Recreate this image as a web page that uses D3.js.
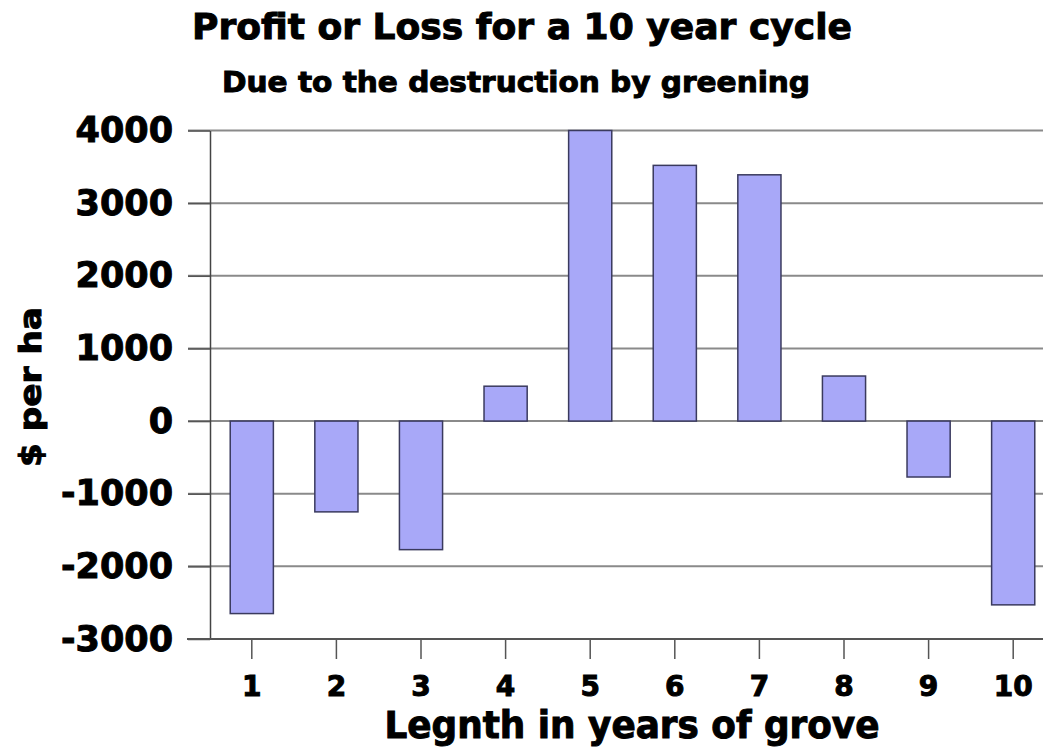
<!DOCTYPE html>
<html>
<head>
<meta charset="utf-8">
<script src="https://cdn.jsdelivr.net/npm/d3@7"></script>
<style>
  html, body { margin: 0; padding: 0; background: #ffffff; }
  svg { display: block; }
  text { font-family: "DejaVu Sans", sans-serif; font-weight: bold; fill: #000; }
  .heavy { stroke: #000; stroke-width: 1; paint-order: stroke; }
</style>
</head>
<body>
<svg id="chart" width="1043" height="750"></svg>
<script>
// Grove age (years) and the resulting profit or loss in $ per ha
const years = [1, 2, 3, 4, 5, 6, 7, 8, 9, 10];
const profit = [-2650, -1250, -1770, 480, 4000, 3520, 3390, 620, -770, -2530];
const yTicks = [-3000, -2000, -1000, 0, 1000, 2000, 3000, 4000];

const titleText = "Profit or Loss for a 10 year cycle";
const subtitleText = "Due to the destruction by greening";
const xTitleText = "Legnth in years of grove";
const yTitleText = "$ per ha";

const svg = d3.select("#chart");

const x = d3.scaleBand()
  .domain(years)
  .range([209.5, 1055.5])
  .paddingInner(0.49)
  .paddingOuter(0.245);

const y = d3.scaleLinear()
  .domain([-3000, 4000])
  .range([639, 130.5]);

// horizontal gridlines (span the tick marks on the left)
svg.append("g")
  .selectAll("line")
  .data(yTicks.filter(d => d !== -3000))
  .join("line")
  .attr("x1", 188)
  .attr("x2", 1043)
  .attr("y1", d => y(d))
  .attr("y2", d => y(d))
  .attr("stroke", "#8a8a8a")
  .attr("stroke-width", 2);

// bars
svg.append("g")
  .selectAll("rect")
  .data(years.map((yr, i) => ({ yr, v: profit[i] })))
  .join("rect")
  .attr("x", d => x(d.yr))
  .attr("width", x.bandwidth())
  .attr("y", d => y(Math.max(0, d.v)))
  .attr("height", d => Math.abs(y(d.v) - y(0)))
  .attr("fill", "#a8a8f8")
  .attr("stroke", "#3a3a5e")
  .attr("stroke-width", 1.5);

// y axis (plain hyphen for negative labels)
const yAxis = svg.append("g")
  .attr("transform", "translate(210,0)")
  .call(d3.axisLeft(y)
    .tickValues(yTicks)
    .tickSize(22)
    .tickSizeOuter(0)
    .tickPadding(15)
    .tickFormat(d => String(d)));
yAxis.select(".domain").attr("stroke", "#444").attr("stroke-width", 1.5);
yAxis.selectAll(".tick line").attr("stroke", "#555").attr("stroke-width", 1.5);
yAxis.selectAll(".tick text")
  .attr("class", "heavy")
  .style("font-size", "35px")
  .style("font-family", "'DejaVu Sans', sans-serif")
  .style("font-weight", "bold")
  .attr("fill", "#000");

// x axis
const xAxis = svg.append("g")
  .attr("transform", `translate(0,${y(-3000)})`)
  .call(d3.axisBottom(x)
    .tickSize(20)
    .tickSizeOuter(0)
    .tickPadding(17));
xAxis.select(".domain").remove();
xAxis.selectAll(".tick line").attr("stroke", "#555").attr("stroke-width", 1.5);
xAxis.selectAll(".tick text")
  .attr("class", "heavy")
  .style("font-size", "28px")
  .style("font-family", "'DejaVu Sans', sans-serif")
  .style("font-weight", "bold")
  .attr("fill", "#000");
svg.append("line")
  .attr("x1", 187).attr("x2", 1043)
  .attr("y1", y(-3000)).attr("y2", y(-3000))
  .attr("stroke", "#555").attr("stroke-width", 1.8);

// titles
svg.append("text")
  .attr("class", "heavy")
  .attr("x", 522).attr("y", 39)
  .attr("text-anchor", "middle")
  .attr("textLength", 660).attr("lengthAdjust", "spacingAndGlyphs")
  .style("font-size", "36px")
  .text(titleText);

svg.append("text")
  .attr("class", "heavy")
  .attr("x", 516).attr("y", 92)
  .attr("text-anchor", "middle")
  .attr("textLength", 588).attr("lengthAdjust", "spacingAndGlyphs")
  .style("font-size", "28px")
  .text(subtitleText);

svg.append("text")
  .attr("class", "heavy")
  .attr("x", 632).attr("y", 738)
  .attr("text-anchor", "middle")
  .attr("textLength", 495).attr("lengthAdjust", "spacingAndGlyphs")
  .style("font-size", "37px")
  .text(xTitleText);

svg.append("text")
  .attr("class", "heavy")
  .attr("transform", "translate(41,387) rotate(-90)")
  .attr("text-anchor", "middle")
  .attr("textLength", 160).attr("lengthAdjust", "spacingAndGlyphs")
  .style("font-size", "31px")
  .text(yTitleText);
</script>
</body>
</html>
